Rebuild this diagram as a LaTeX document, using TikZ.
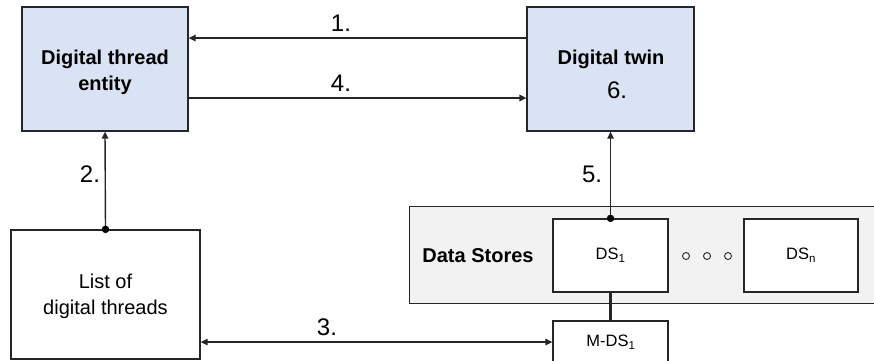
\documentclass[tikz,border=0pt]{standalone}
\usepackage{fontspec}
\setmainfont{Liberation Sans}
\usetikzlibrary{arrows.meta}
\definecolor{boxblue}{HTML}{DAE3F3}
\definecolor{storegray}{HTML}{F2F2F2}
\definecolor{linegray}{HTML}{262626}
\begin{document}
\begin{tikzpicture}[x=1pt,y=-1pt,
  box/.style={draw=linegray, line width=1.3pt, rectangle, inner sep=0pt, align=center},
  bluebox/.style={box, fill=boxblue},
  whitebox/.style={box, fill=white, font=\fontsize{16.5}{20}\selectfont},
  boldtxt/.style={font=\fontsize{20}{26}\selectfont\bfseries, inner sep=0pt, align=center},
  plaintxt/.style={font=\fontsize{20}{26}\selectfont, inner sep=0pt, align=center},
  conn/.style={line width=1.4pt, draw=linegray},
  arr/.style={conn, -{Triangle[length=7pt,width=6.5pt]}},
  darr/.style={conn, {Triangle[length=7pt,width=6.5pt]}-{Triangle[length=7pt,width=6.5pt]}},
  lbl/.style={font=\fontsize{24}{28}\selectfont, inner sep=0pt},
  dotc/.style={circle, fill=black, inner sep=0pt, minimum size=7.5pt},
  ring/.style={circle, draw=linegray, line width=0.9pt, inner sep=0pt, minimum size=7pt}
]
\useasboundingbox (0,0) rectangle (874,360);
\clip (0,0) rectangle (874,360);

% main boxes
\node[bluebox, minimum width=166pt, minimum height=124pt] (dte) at (105,69) {};
\node[boldtxt] (dtelabel) at (105,72) {Digital thread\\entity};
\node[bluebox, minimum width=167pt, minimum height=124pt] (dt) at (610.5,69) {};
\node[boldtxt] (dtlabel) at (611,59) {Digital twin};
\node[lbl] (six) at (617,90) {6.};

\node[whitebox, minimum width=189pt, minimum height=129pt] (list) at (105.5,294.5) {};
\node[plaintxt] (listlabel) at (105.5,296) {List of\\digital threads};

% data stores
\node[box, fill=storegray, anchor=north west, minimum width=475pt, minimum height=97pt] (stores) at (409,206) {};
\node[boldtxt] (storeslabel) at (478,256) {Data Stores};
\node[whitebox, minimum width=115pt, minimum height=73pt] (ds1) at (610.5,255.5) {DS\textsubscript{1}};
\node[whitebox, minimum width=114pt, minimum height=73pt] (dsn) at (801,255.5) {DS\textsubscript{n}};
\node[ring] (r1) at (686,256) {};
\node[ring] (r2) at (707,256) {};
\node[ring] (r3) at (728,256) {};

\node[whitebox, minimum width=115pt, minimum height=44pt] (mds) at (610.5,343) {};
\node[font=\fontsize{16.5}{20}\selectfont, inner sep=0pt] (mdslabel) at (611,342) {M-DS\textsubscript{1}};

% connectors
\draw[arr] ([yshift=31pt]dt.west) -- ([yshift=31pt]dte.east);
\draw[arr] ([yshift=-29pt]dte.east) -- ([yshift=-29pt]dt.west);
\draw[arr] (list.north) -- (dte.south);
\node[dotc] (d1) at (list.north) {};
\draw[arr] (ds1.north) -- (dt.south);
\node[dotc] (d2) at (ds1.north) {};
\draw[conn, line width=2.2pt] (ds1.south) -- (mds.north);
\draw[darr] (list.east |- mdslabel) -- (mds.west |- mdslabel);

% labels
\node[lbl] (l1) at (341,23) {1.};
\node[lbl] (l4) at (341,83) {4.};
\node[lbl] (l2) at (90,174) {2.};
\node[lbl] (l5) at (592,174) {5.};
\node[lbl] (l3) at (327,327) {3.};
\end{tikzpicture}
\end{document}
